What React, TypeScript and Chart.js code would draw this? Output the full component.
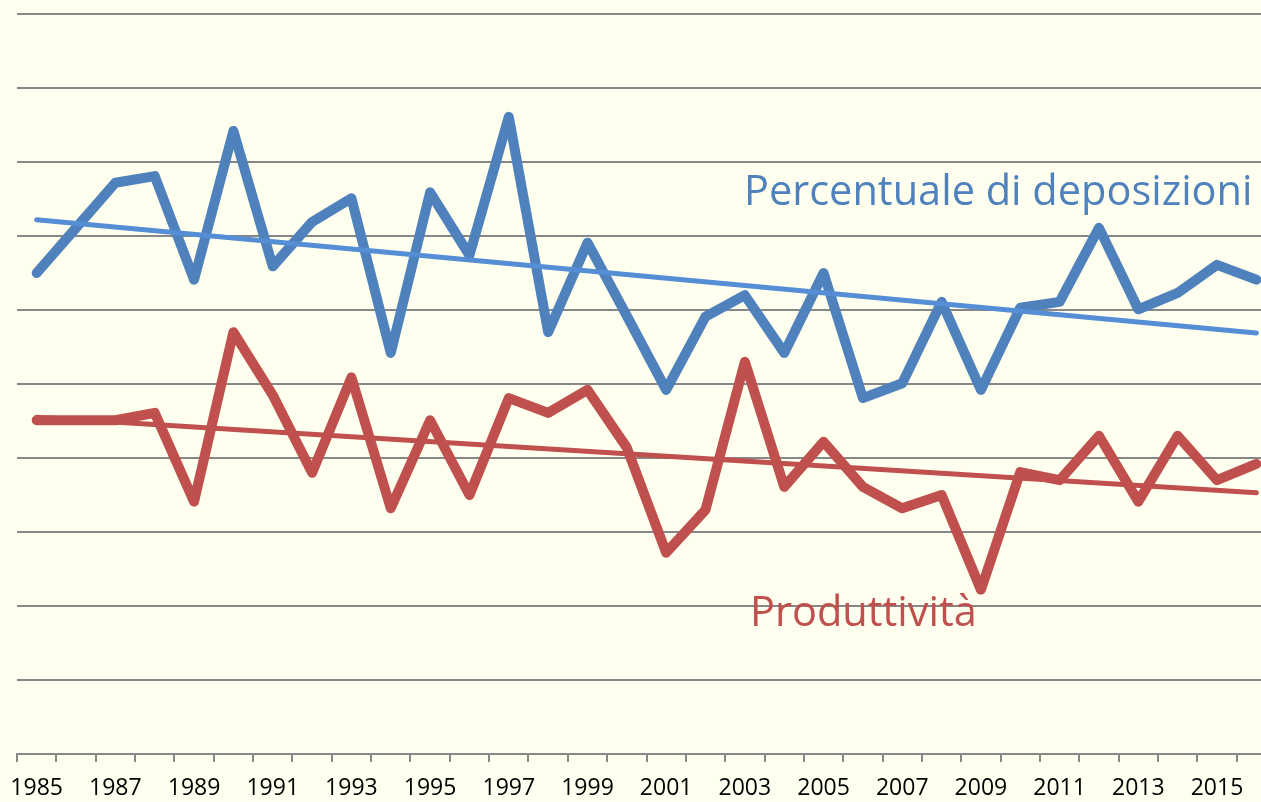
import React, { useEffect, useRef } from "react";
import { Chart, registerables } from "chart.js";

Chart.register(...registerables);

const years: string[] = [
  "1985","1986","1987","1988","1989","1990","1991","1992","1993","1994",
  "1995","1996","1997","1998","1999","2000","2001","2002","2003","2004",
  "2005","2006","2007","2008","2009","2010","2011","2012","2013","2014",
  "2015","2016",
];

const deposizioni: number[] = [
  6.50, 7.11, 7.72, 7.81, 6.41, 8.42, 6.59, 7.19, 7.51, 5.42,
  7.59, 6.74, 8.61, 5.70, 6.91, 5.92, 4.92, 5.91, 6.20, 5.42,
  6.50, 4.81, 5.01, 6.11, 4.92, 6.03, 6.11, 7.11, 6.01, 6.23,
  6.61, 6.41,
];

const produttivita: number[] = [
  4.51, 4.51, 4.51, 4.61, 3.41, 5.70, 4.85, 3.80, 5.09, 3.32,
  4.51, 3.50, 4.81, 4.61, 4.92, 4.14, 2.72, 3.30, 5.30, 3.61,
  4.22, 3.61, 3.32, 3.50, 2.22, 3.81, 3.70, 4.30, 3.41, 4.30,
  3.70, 3.92,
];

// Trend line endpoints (first year, last year)
const trendDeposizioni: number[] = [7.22, 5.69];
const trendProduttivita: number[] = [4.55, 3.53];

const yTicks: number[] = [0, 1, 2, 3, 4, 5, 6, 7, 8, 9, 10];

const labelDeposizioni = "Percentuale di deposizioni";
const labelProduttivita = "Produttività";

function endpoints(e: number[]): (number | null)[] {
  return years.map((_, i) => (i === 0 ? e[0] : i === years.length - 1 ? e[1] : null));
}

const BG = "#FFFFEF";
const GRID = "#878787";
const BLUE = "#4F81BD";
const BLUE_TREND = "#558ED5";
const RED = "#C0504D";

const textPlugin = {
  id: "seriesText",
  afterDraw(chart: any) {
    const ctx = chart.ctx;
    ctx.save();
    ctx.font = "41.5px 'Open Sans'";
    ctx.textBaseline = "alphabetic";
    ctx.textAlign = "left";
    ctx.fillStyle = BLUE;
    ctx.fillText(labelDeposizioni, 744, 205);
    ctx.fillStyle = RED;
    ctx.fillText(labelProduttivita, 750, 626);
    ctx.restore();
  },
};

export default function App() {
  const ref = useRef<HTMLCanvasElement | null>(null);

  useEffect(() => {
    document.body.style.margin = "0";
    document.body.style.background = BG;
    if (!ref.current) return;
    const chart = new Chart(ref.current, {
      type: "line",
      data: {
        labels: years,
        datasets: [
          {
            label: "Trend deposizioni",
            data: endpoints(trendDeposizioni),
            borderColor: BLUE_TREND,
            borderWidth: 5,
            pointRadius: 0,
            spanGaps: true,
            borderCapStyle: "round",
            order: 1,
          },
          {
            label: "Trend produttività",
            data: endpoints(trendProduttivita),
            borderColor: RED,
            borderWidth: 5,
            pointRadius: 0,
            spanGaps: true,
            borderCapStyle: "round",
            order: 2,
          },
          {
            label: labelDeposizioni,
            data: deposizioni,
            borderColor: BLUE,
            borderWidth: 10,
            pointRadius: 0,
            borderCapStyle: "round",
            borderJoinStyle: "round",
            tension: 0,
            order: 3,
          },
          {
            label: labelProduttivita,
            data: produttivita,
            borderColor: RED,
            borderWidth: 10,
            pointRadius: 0,
            borderCapStyle: "round",
            borderJoinStyle: "round",
            tension: 0,
            order: 4,
          },
        ],
      },
      options: {
        animation: false,
        responsive: true,
        maintainAspectRatio: false,
        layout: { padding: { top: 14, left: 0, right: 0, bottom: 0 } },
        plugins: {
          legend: { display: false },
          tooltip: { enabled: false },
        },
        scales: {
          x: {
            type: "category",
            offset: true,
            grid: {
              offset: true,
              drawOnChartArea: false,
              drawTicks: true,
              tickLength: 8,
              color: GRID,
              lineWidth: 2,
            },
            border: { display: true, color: GRID, width: 2 },
            ticks: {
              autoSkip: false,
              maxRotation: 0,
              minRotation: 0,
              padding: 13,
              color: "#000000",
              font: { family: "'Open Sans'", size: 23 },
              callback: (_v: any, i: number) => (i % 2 === 0 ? years[i] : ""),
            },
            afterFit: (axis: any) => {
              axis.height = 48;
              axis.paddingLeft = 0;
              axis.paddingRight = 0;
            },
          },
          y: {
            min: yTicks[0],
            max: yTicks[yTicks.length - 1],
            afterBuildTicks: (axis: any) => {
              axis.ticks = yTicks.map((v) => ({ value: v }));
            },
            grid: { color: GRID, lineWidth: 2, drawTicks: false },
            border: { display: false },
            ticks: { display: false },
            afterFit: (axis: any) => {
              axis.width = 17;
            },
          },
        },
      },
      plugins: [textPlugin],
    });
    return () => chart.destroy();
  }, []);

  return (
    <div style={{ width: 1261, height: 802, overflow: "hidden", background: BG, position: "relative" }}>
      <div style={{ width: 1276, height: 802, position: "absolute", left: 0, top: 0 }}>
        <canvas ref={ref} />
      </div>
    </div>
  );
}
